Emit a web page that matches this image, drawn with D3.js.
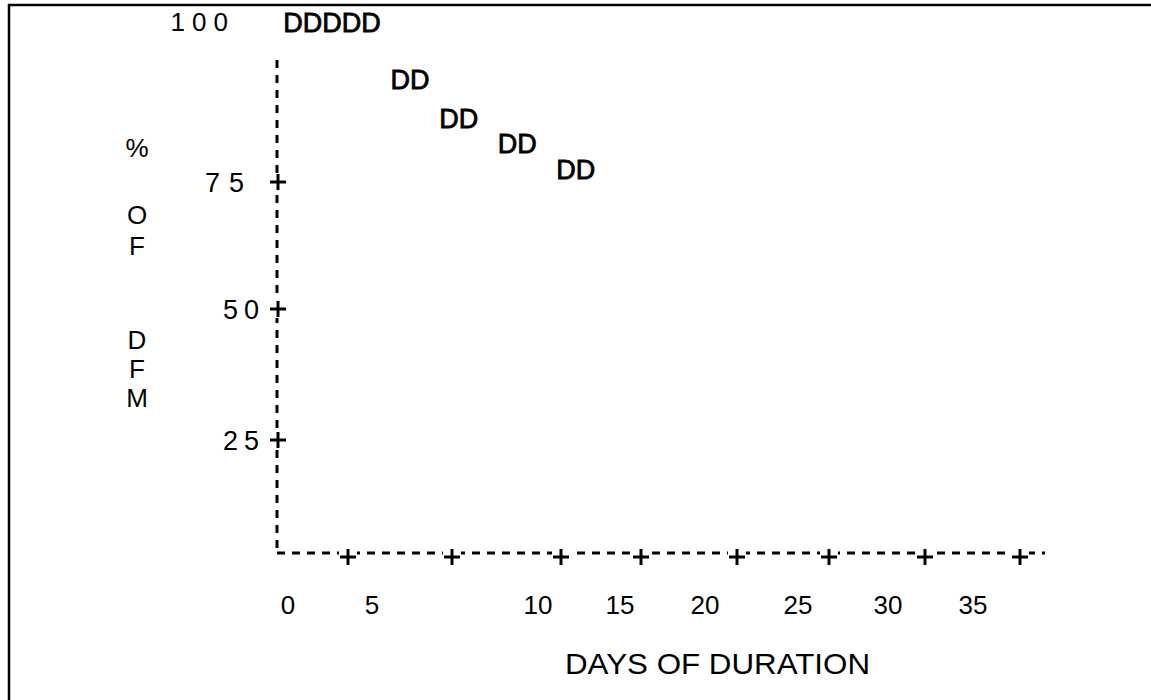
<!DOCTYPE html>
<html>
<head>
<meta charset="utf-8">
<script src="https://cdn.jsdelivr.net/npm/d3@7"></script>
<style>
  html, body { margin: 0; padding: 0; background: #fff; }
  svg { display: block; }
  text { fill: #000; }
</style>
</head>
<body>
<script>
// ---------------- DATA ----------------
const yTickValues = [25, 50, 75];
const yTopValue = 100;
const yTitleLetters = ["%", "O", "F", "D", "F", "M"];
const xTickLabels = [0, 5, 10, 15, 20, 25, 30, 35];
const xTitle = "DAYS OF DURATION";
// plotted "D" marks: day of duration and % of DFM
const days    = [0, 1, 2, 3, 4, 5.5, 6.5, 8, 9, 11, 12, 14, 15];
const percent = [100, 100, 100, 100, 100, 91, 91, 85, 85, 81, 81, 77, 77];
const plotSymbol = "D";

// ---------------- LAYOUT ----------------
const W = 1151, H = 700;
const axisX = 277, axisY = 553;
const svg = d3.select("body").append("svg").attr("width", W).attr("height", H);
svg.append("rect").attr("width", W).attr("height", H).attr("fill", "#fff");

// frame (top and left edges of scanned page box)
svg.append("path")
  .attr("d", `M9,${H} L9,5 L${W},5`)
  .attr("fill", "none").attr("stroke", "#000").attr("stroke-width", 2.5);

// scales (typewriter plot rows/columns are not evenly spaced)
const y = d3.scaleLinear().domain([25, 50, 75, 100]).range([440, 309, 182, 22]);
const x = d3.scaleLinear().domain([0, 1]).range([293, 312.5]);
const xLabel = d3.scaleLinear().domain(xTickLabels).range([288, 372, 538, 620, 705, 798, 888, 973]);
const xPlus = d3.scaleLinear().domain(xTickLabels).range([348, 452, 561, 641, 737, 829, 925, 1020]);

const font = "'Liberation Sans', Arial, Helvetica, sans-serif";
const narrow = "'Liberation Sans Narrow', 'Liberation Sans', Arial, sans-serif";

// vertical dashed axis
svg.append("line")
  .attr("x1", axisX).attr("x2", axisX).attr("y1", 60).attr("y2", axisY)
  .attr("stroke", "#000").attr("stroke-width", 3).attr("stroke-dasharray", "8,7");
// horizontal dashed axis
svg.append("line")
  .attr("x1", axisX).attr("x2", 1045).attr("y1", axisY).attr("y2", axisY)
  .attr("stroke", "#000").attr("stroke-width", 3).attr("stroke-dasharray", "8,7");

function plus(g, cx, cy) {
  g.append("rect").attr("x", cx - 9).attr("y", cy - 9).attr("width", 18).attr("height", 18).attr("fill", "#fff");
  g.append("line").attr("x1", cx - 8).attr("x2", cx + 8).attr("y1", cy).attr("y2", cy)
    .attr("stroke", "#000").attr("stroke-width", 3);
  g.append("line").attr("x1", cx).attr("x2", cx).attr("y1", cy - 8).attr("y2", cy + 8)
    .attr("stroke", "#000").attr("stroke-width", 3);
}

// y ticks
const yg = svg.append("g");
yTickValues.forEach(v => plus(yg, axisX + 1, y(v)));
yg.selectAll("text.ytick").data(yTickValues).join("text")
  .attr("class", "ytick")
  .attr("x", v => v === 75 ? 253 : 265)
  .attr("y", v => y(v))
  .attr("dy", "0.36em")
  .attr("text-anchor", "end")
  .attr("font-family", font).attr("font-size", 27)
  .attr("letter-spacing", v => v === 75 ? 9 : 6)
  .text(d => d);
yg.append("text")
  .attr("x", 235).attr("y", y(yTopValue)).attr("dy", "0.36em")
  .attr("text-anchor", "end")
  .attr("font-family", font).attr("font-size", 26).attr("letter-spacing", 7)
  .text(yTopValue);

// y title letters (stacked, with a blank row between words)
const yTitleRows = [148, 215, 246, 340, 369, 398];
svg.selectAll("text.ytitle").data(yTitleLetters).join("text")
  .attr("class", "ytitle")
  .attr("x", 137)
  .attr("y", (d, i) => yTitleRows[i])
  .attr("dy", "0.36em")
  .attr("text-anchor", "middle")
  .attr("font-family", font).attr("font-size", 26)
  .text(d => d);

// x ticks: "+" marks on axis
const xg = svg.append("g");
xTickLabels.forEach(v => plus(xg, xPlus(v), axisY + 4));
xg.selectAll("text.xtick").data(xTickLabels).join("text")
  .attr("class", "xtick")
  .attr("x", v => xLabel(v))
  .attr("y", 605).attr("dy", "0.36em")
  .attr("text-anchor", "middle")
  .attr("font-family", narrow).attr("font-size", 26)
  .text(d => d);

// x title
svg.append("text")
  .attr("x", 565).attr("y", 664).attr("dy", "0.36em")
  .attr("font-family", narrow).attr("font-size", 29)
  .attr("textLength", 305).attr("lengthAdjust", "spacingAndGlyphs")
  .text(xTitle);

// plotted marks
const pts = days.map((d, i) => ({ day: d, pct: percent[i] }));
svg.selectAll("text.pt").data(pts).join("text")
  .attr("class", "pt")
  .attr("x", d => x(d.day))
  .attr("y", d => y(d.pct))
  .attr("dy", "0.36em")
  .attr("text-anchor", "middle")
  .attr("font-family", font).attr("font-size", 27)
  .attr("stroke", "#000").attr("stroke-width", 0.8)
  .text(plotSymbol);
</script>
</body>
</html>
